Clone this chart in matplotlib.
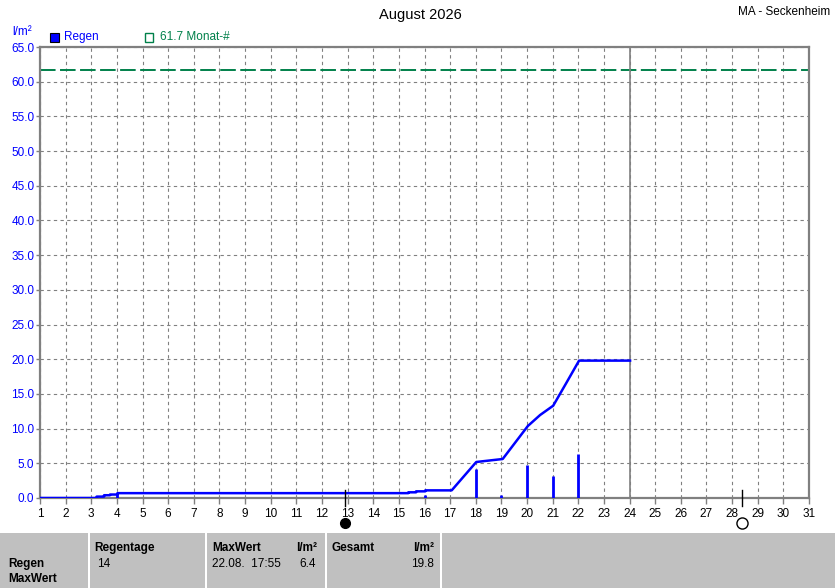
import matplotlib
matplotlib.use("Agg")
import matplotlib.pyplot as plt
from matplotlib.patches import Rectangle

plt.rcParams['font.family'] = ['Liberation Sans', 'DejaVu Sans']

# ---- data ----
days = list(range(1, 32))
cum_t = [1, 3.21, 3.21, 3.5, 3.5, 3.73, 3.73, 4.02, 4.02, 15.37, 15.37, 15.67, 15.67,
         16.03, 16.03, 17.06, 18.02, 19.05, 20.03, 20.51, 21.02, 21.52, 22.03, 24.02]
cum_v = [0, 0, 0.2, 0.2, 0.4, 0.4, 0.5, 0.5, 0.7, 0.7, 0.82, 0.82, 0.96,
         0.96, 1.1, 1.1, 5.19, 5.62, 10.37, 11.96, 13.3, 16.5, 19.8, 19.8]
bar_days = [4, 16, 18, 19, 20, 21, 22]
bar_vals = [0.7, 0.4, 4.2, 0.4, 4.8, 3.1, 6.4]
month_avg = 61.7
today = 24
new_moon = 12.9
full_moon = 28.4
yticks = [0, 5, 10, 15, 20, 25, 30, 35, 40, 45, 50, 55, 60, 65]

W, H = 835, 588
fig = plt.figure(figsize=(W / 100, H / 100), dpi=100)

def fx(x):
    return x / W

def fy(y):
    return 1 - y / H

# bottom panel
fig.patches.append(Rectangle((0, 0), 1, fy(533), transform=fig.transFigure,
                             facecolor='#c0c0c0', edgecolor='none', zorder=0))
for sx in [88, 205, 325, 440]:
    fig.patches.append(Rectangle((fx(sx), 0), fx(2), fy(533), transform=fig.transFigure,
                                 facecolor='white', edgecolor='none', zorder=1))

ax = fig.add_axes([fx(40), fy(498), fx(809 - 40), fy(47) - fy(498)])
ax.set_xlim(1, 31)
ax.set_ylim(0, 65)

grey = '#808080'
for s in ax.spines.values():
    s.set_color(grey)
    s.set_linewidth(1.6)

ax.set_xticks(days)
ax.set_xticklabels([str(d) for d in days], fontsize=8.5, color='black')
ax.set_yticks(yticks)
ax.set_yticklabels([f"{v:.1f}" for v in yticks], fontsize=8.5, color='#0000ff')
ax.tick_params(axis='x', length=4, width=1, color=grey, pad=3)
ax.tick_params(axis='y', length=3, width=1, color=grey, pad=1)

ax.grid(True, color=grey, linestyle=(0, (3, 3)), linewidth=0.8)
ax.set_axisbelow(True)

# month average dashed line
ax.plot([1, 31], [month_avg, month_avg], color='#00804a', linewidth=1.4,
        linestyle=(0, (8, 2.3)), zorder=2)

# today line
ax.axvline(today, color=grey, linewidth=1.2, zorder=2)

# daily bars
ax.vlines(bar_days, 0, bar_vals, color='#0000ff', linewidth=2.0, zorder=3)

# cumulative line
ax.plot(cum_t, cum_v, color='#0000ff', linewidth=1.8, zorder=4)

# moon markers
tr = ax.get_xaxis_transform()
for mx in [new_moon, full_moon]:
    ax.plot([mx, mx], [-0.018, 0.018], color='black', linewidth=1, transform=tr,
            clip_on=False, zorder=5)
ax.plot([new_moon], [-0.055], marker='o', markersize=7, color='black',
        markerfacecolor='black', transform=tr, clip_on=False)
ax.plot([full_moon], [-0.055], marker='o', markersize=8, color='black',
        markerfacecolor='white', markeredgewidth=1, transform=tr, clip_on=False)

# titles & legend
fig.text(fx(420), fy(15), "August 2026", ha='center', va='center', fontsize=10.5)
fig.text(fx(830), fy(12), "MA - Seckenheim", ha='right', va='center', fontsize=8.5)
fig.text(fx(12), fy(32), "l/m²", ha='left', va='center', fontsize=8.5, color='#0000ff')
fig.patches.append(Rectangle((fx(50), fy(42)), fx(9), fy(33) - fy(42), transform=fig.transFigure,
                             facecolor='#0000ff', edgecolor='black', linewidth=0.8))
fig.text(fx(64), fy(37), "Regen", ha='left', va='center', fontsize=8.5, color='#0000ff')
fig.patches.append(Rectangle((fx(145), fy(42)), fx(8), fy(33) - fy(42), transform=fig.transFigure,
                             facecolor='none', edgecolor='#00804a', linewidth=1))
fig.text(fx(160), fy(37), "61.7 Monat-#", ha='left', va='center', fontsize=8.5, color='#00804a')

# table text
fs = 8.5
fig.text(fx(94), fy(548), "Regentage", fontsize=fs, fontweight='bold', va='center')
fig.text(fx(97), fy(564), "14", fontsize=fs, va='center')
fig.text(fx(8), fy(564), "Regen", fontsize=fs, fontweight='bold', va='center')
fig.text(fx(8), fy(579), "MaxWert", fontsize=fs, fontweight='bold', va='center')
fig.text(fx(212), fy(548), "MaxWert", fontsize=fs, fontweight='bold', va='center')
fig.text(fx(317), fy(548), "l/m²", fontsize=fs, fontweight='bold', va='center', ha='right')
fig.text(fx(212), fy(564), "22.08.  17:55", fontsize=fs, va='center')
fig.text(fx(316), fy(564), "6.4", fontsize=fs, va='center', ha='right')
fig.text(fx(331), fy(548), "Gesamt", fontsize=fs, fontweight='bold', va='center')
fig.text(fx(434), fy(548), "l/m²", fontsize=fs, fontweight='bold', va='center', ha='right')
fig.text(fx(434), fy(564), "19.8", fontsize=fs, va='center', ha='right')

fig.savefig("out.png", dpi=100)
